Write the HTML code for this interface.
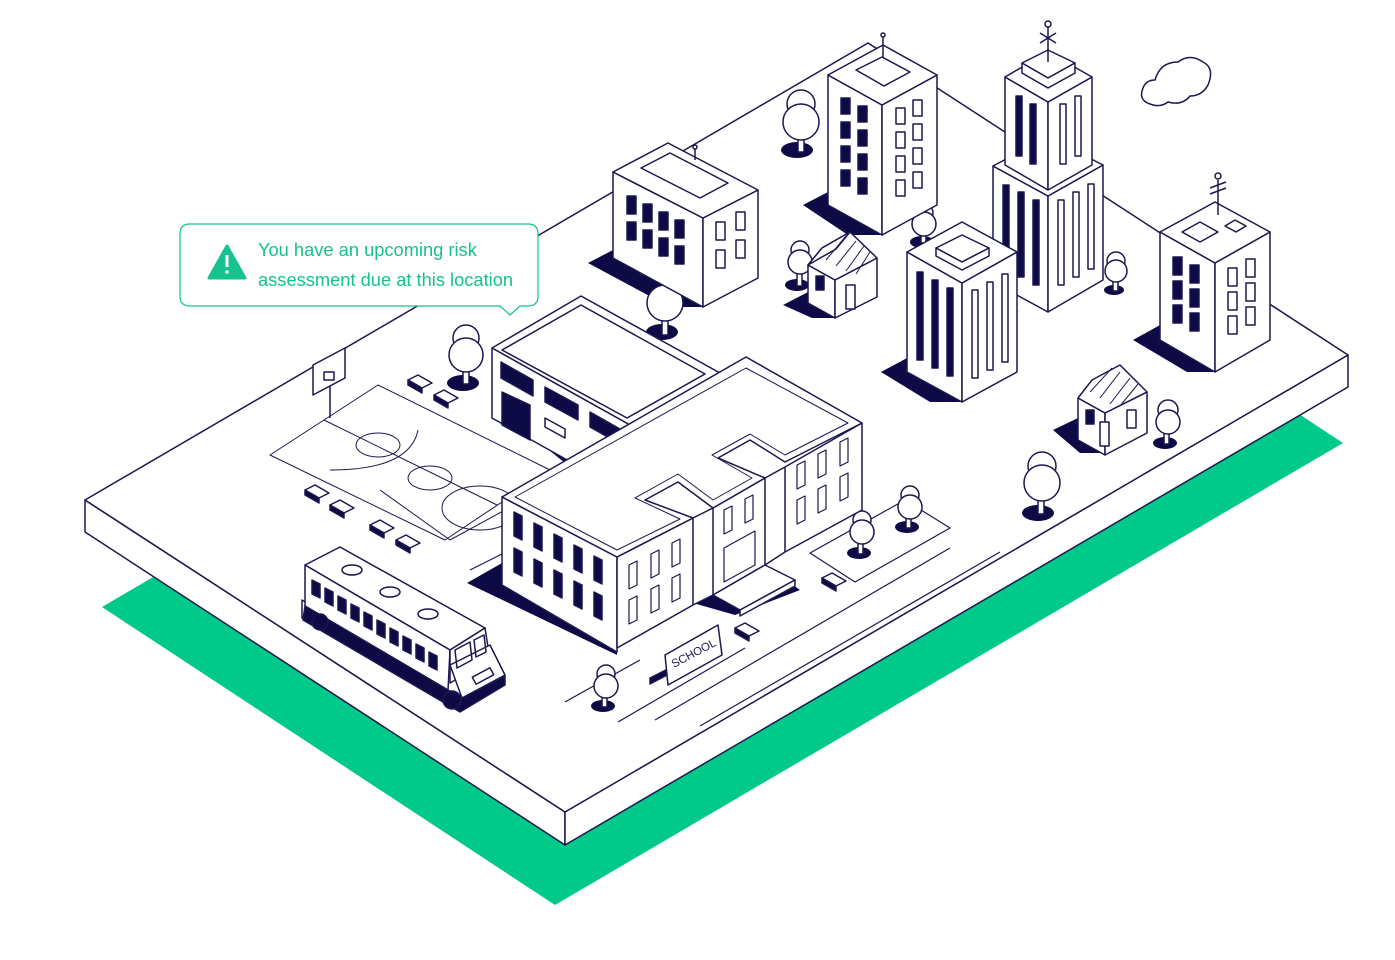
<!DOCTYPE html>
<html><head><meta charset="utf-8"><style>
html,body{margin:0;padding:0;background:#fff;}
svg{display:block;}
</style></head><body>
<svg width="1395" height="960" viewBox="0 0 1395 960" xmlns="http://www.w3.org/2000/svg">
<g stroke="#1b1850" stroke-width="1.5" stroke-linejoin="round" fill="#fff">
<!-- green ground -->
<polygon points="102,607 555,905 1343,443 890,145" fill="#00c98a" stroke="none"/>
<!-- platform -->
<polygon points="85,500 565,812 565,845 85,532" />
<polygon points="565,812 1348,355 1348,387 565,845" />
<polygon points="85,500 868,43 1348,355 565,812" />

<!-- court -->
<polygon points="270,455 378,385 550,470 445,540" fill="none" stroke-width="1"/>
<line x1="324" y1="420" x2="497" y2="505" stroke-width="1"/>
<ellipse cx="378" cy="445" rx="22" ry="12" fill="none" stroke-width="1"/>
<path d="M330,470 Q410,470 418,430" fill="none" stroke-width="1"/>
<ellipse cx="430" cy="478" rx="22" ry="12" fill="none" stroke-width="1"/>
<path d="M380,490 L450,540 L560,480" fill="none" stroke-width="1"/>
<ellipse cx="480" cy="508" rx="38" ry="22" fill="none" stroke-width="1"/>
<!-- hoop -->
<line x1="330" y1="385" x2="330" y2="418"/>
<polygon points="313,365 345,348 345,378 313,395"/>
<rect x="324" y="372" width="10" height="8"/>
<!-- lines / roads -->
<g fill="none" stroke-width="1.2">
<line x1="565" y1="702" x2="640" y2="660"/>
<line x1="618" y1="722" x2="745" y2="648"/>
<line x1="655" y1="720" x2="950" y2="548"/>
<line x1="700" y1="726" x2="1000" y2="552"/>
<polygon points="810,553 905,500 950,528 855,582"/>
<line x1="470" y1="570" x2="560" y2="525"/>
</g>

<!-- shadows -->
<g fill="#0d0a45" stroke="none">
<polygon points="588,263 613,250 613,258 703,307 670,307"/>
<polygon points="803,205 828,192 828,205 882,235 848,235"/>
<polygon points="881,372 907,358 907,372 962,402 930,402"/>
<polygon points="1133,340 1160,325 1160,340 1215,372 1187,372"/>
<polygon points="493,405 530,385 600,440 565,463"/>
<polygon points="467,583 502,563 617,630 617,655"/>
<polygon points="783,305 808,292 835,318 812,318"/>
<polygon points="1053,430 1078,418 1105,453 1080,453"/>
<polygon points="990,282 993,297 1020,312 1003,300"/>
<polygon points="693,603 765,565 800,590 735,615"/>
<ellipse cx="797" cy="150" rx="16" ry="8"/>
<ellipse cx="662" cy="332" rx="16" ry="8"/>
<ellipse cx="463" cy="383" rx="16" ry="8"/>
<ellipse cx="922" cy="242" rx="12" ry="6"/>
<ellipse cx="797" cy="285" rx="12" ry="6"/>
<ellipse cx="1114" cy="290" rx="10" ry="5"/>
<ellipse cx="1038" cy="513" rx="16" ry="8"/>
<ellipse cx="1165" cy="443" rx="12" ry="6"/>
<ellipse cx="907" cy="527" rx="12" ry="6"/>
<ellipse cx="859" cy="553" rx="12" ry="6"/>
<ellipse cx="603" cy="706" rx="12" ry="6"/>
</g>

<!-- trees -->
<g>
<g><rect x="798" y="130" width="6" height="22"/><circle cx="801" cy="104" r="14"/><circle cx="801" cy="122" r="18"/></g>
<g><rect x="662" y="315" width="6" height="20"/><circle cx="665" cy="303" r="18"/></g>
<g><rect x="463" y="360" width="6" height="24"/><circle cx="466" cy="338" r="13"/><circle cx="466" cy="355" r="17"/></g>
<g><rect x="921" y="228" width="5" height="15"/><circle cx="924" cy="213" r="9"/><circle cx="924" cy="224" r="12"/></g>
<g><rect x="797" y="270" width="5" height="16"/><circle cx="800" cy="250" r="9"/><circle cx="800" cy="262" r="12"/></g>
<g><rect x="1113" y="275" width="5" height="16"/><circle cx="1116" cy="261" r="9"/><circle cx="1116" cy="271" r="11"/></g>
<g><rect x="1038" y="490" width="6" height="24"/><circle cx="1042" cy="466" r="14"/><circle cx="1042" cy="483" r="18"/></g>
<g><rect x="1164" y="428" width="5" height="16"/><circle cx="1168" cy="410" r="10"/><circle cx="1168" cy="422" r="12"/></g>
<g><rect x="906" y="512" width="5" height="16"/><circle cx="910" cy="495" r="9"/><circle cx="910" cy="507" r="12"/></g>
<g><rect x="858" y="538" width="5" height="16"/><circle cx="862" cy="520" r="9"/><circle cx="862" cy="532" r="12"/></g>
<g><rect x="602" y="692" width="5" height="15"/><circle cx="606" cy="674" r="9"/><circle cx="606" cy="686" r="12"/></g>
</g>

<!-- benches -->
<g>
<polygon points="408,380 418,375 432,383 422,388"/><polygon points="408,380 422,388 422,393 408,385" fill="#0d0a45"/>
<polygon points="434,395 444,390 458,398 448,403"/><polygon points="434,395 448,403 448,408 434,400" fill="#0d0a45"/>
<polygon points="305,490 315,485 329,493 319,498"/><polygon points="305,490 319,498 319,503 305,495" fill="#0d0a45"/>
<polygon points="330,505 340,500 354,508 344,513"/><polygon points="330,505 344,513 344,518 330,510" fill="#0d0a45"/>
<polygon points="370,525 380,520 394,528 384,533"/><polygon points="370,525 384,533 384,538 370,530" fill="#0d0a45"/>
<polygon points="396,540 406,535 420,543 410,548"/><polygon points="396,540 410,548 410,553 396,545" fill="#0d0a45"/>
<polygon points="822,578 832,573 846,581 836,586"/><polygon points="822,578 836,586 836,591 822,583" fill="#0d0a45"/>
<polygon points="735,628 745,623 759,631 749,636"/><polygon points="735,628 749,636 749,641 735,633" fill="#0d0a45"/>
</g>

<!-- Building A -->
<polygon points="613,172 703,218 703,307 613,258"/>
<polygon points="703,218 758,190 758,278 703,307"/>
<polygon points="613,172 668,143 758,190 703,218"/>
<polygon points="641,168 670,153 728,183 700,198"/>
<line x1="695" y1="160" x2="695" y2="148"/><circle cx="695" cy="147" r="2"/>
<g fill="#0d0a45">
<rect x="627" y="196" width="9" height="18"/><rect x="643" y="204" width="9" height="18"/><rect x="659" y="212" width="9" height="18"/><rect x="675" y="220" width="9" height="18"/>
<rect x="627" y="222" width="9" height="18"/><rect x="643" y="230" width="9" height="18"/><rect x="659" y="238" width="9" height="18"/><rect x="675" y="246" width="9" height="18"/>
</g>
<g fill="none"><rect x="716" y="222" width="9" height="18"/><rect x="736" y="212" width="9" height="18"/><rect x="716" y="250" width="9" height="18"/><rect x="736" y="240" width="9" height="18"/></g>

<!-- Building B -->
<polygon points="828,75 882,105 882,235 828,205"/>
<polygon points="882,105 937,75 937,205 882,235"/>
<polygon points="828,75 883,45 937,75 882,105"/>
<polygon points="856,70 882,57 910,72 884,86"/>
<line x1="883" y1="57" x2="883" y2="37"/><circle cx="883" cy="35" r="2"/>
<g fill="#0d0a45">
<rect x="841" y="98" width="9" height="16"/><rect x="858" y="106" width="9" height="16"/>
<rect x="841" y="122" width="9" height="16"/><rect x="858" y="130" width="9" height="16"/>
<rect x="841" y="146" width="9" height="16"/><rect x="858" y="154" width="9" height="16"/>
<rect x="841" y="170" width="9" height="16"/><rect x="858" y="178" width="9" height="16"/>
</g>
<g fill="none"><rect x="896" y="108" width="9" height="16"/><rect x="913" y="100" width="9" height="16"/><rect x="896" y="132" width="9" height="16"/><rect x="913" y="124" width="9" height="16"/><rect x="896" y="156" width="9" height="16"/><rect x="913" y="148" width="9" height="16"/><rect x="896" y="180" width="9" height="16"/><rect x="913" y="172" width="9" height="16"/></g>

<!-- House 1 -->
<polygon points="808,265 835,280 835,318 808,303"/>
<polygon points="835,280 877,258 877,297 835,318"/>
<polygon points="808,265 822,248 850,232 877,258 835,280"/>
<polygon points="808,265 822,248 850,232 836,249"/>
<rect x="816" y="276" width="8" height="14" fill="#0d0a45"/>
<rect x="846" y="285" width="9" height="24"/>
<g stroke-width="1"><line x1="826" y1="260" x2="846" y2="236"/><line x1="836" y1="266" x2="856" y2="241"/><line x1="846" y1="271" x2="864" y2="246"/><line x1="856" y1="274" x2="870" y2="252"/></g>

<!-- House 2 -->
<polygon points="1078,398 1105,413 1105,455 1078,440"/>
<polygon points="1105,413 1147,392 1147,433 1105,455"/>
<polygon points="1078,398 1092,380 1120,365 1147,392 1105,413"/>
<rect x="1086" y="410" width="8" height="14" fill="#0d0a45"/>
<rect x="1100" y="422" width="9" height="24"/>
<rect x="1127" y="410" width="9" height="18"/>
<g stroke-width="1"><line x1="1090" y1="392" x2="1112" y2="368"/><line x1="1100" y1="398" x2="1120" y2="372"/><line x1="1110" y1="404" x2="1130" y2="378"/><line x1="1120" y1="406" x2="1138" y2="384"/></g>

<!-- Tower C lower -->
<polygon points="993,166 1048,196 1048,312 993,282"/>
<polygon points="1048,196 1103,165 1103,280 1048,312"/>
<polygon points="993,166 1048,137 1103,165 1048,196"/>
<g fill="#0d0a45"><rect x="1003" y="185" width="6" height="85"/><rect x="1018" y="192" width="6" height="85"/><rect x="1033" y="200" width="6" height="85"/></g>
<g fill="none"><rect x="1058" y="200" width="6" height="85"/><rect x="1073" y="192" width="6" height="85"/><rect x="1088" y="184" width="6" height="85"/></g>
<!-- Tower C upper -->
<polygon points="1005,77 1048,102 1048,190 1005,165"/>
<polygon points="1048,102 1092,77 1092,165 1048,190"/>
<polygon points="1005,77 1048,52 1092,77 1048,102"/>
<polygon points="1022,63 1048,50 1075,63 1048,78"/>
<polygon points="1022,63 1048,78 1075,63 1075,73 1048,88 1022,73"/>
<line x1="1048" y1="62" x2="1048" y2="27"/><circle cx="1048" cy="24" r="3"/>
<line x1="1040" y1="33" x2="1056" y2="43"/><line x1="1040" y1="43" x2="1056" y2="33"/>
<g fill="#0d0a45"><rect x="1016" y="96" width="6" height="60"/><rect x="1030" y="104" width="6" height="60"/></g>
<g fill="none"><rect x="1060" y="104" width="6" height="60"/><rect x="1075" y="96" width="6" height="60"/></g>

<!-- Building D -->
<polygon points="907,252 962,283 962,402 907,372"/>
<polygon points="962,283 1017,252 1017,372 962,402"/>
<polygon points="907,252 962,222 1017,252 962,283"/>
<polygon points="936,248 962,235 989,248 962,262"/>
<polygon points="936,248 962,262 989,248 989,256 962,270 936,256"/>
<g fill="#0d0a45"><rect x="917" y="272" width="6" height="88"/><rect x="932" y="280" width="6" height="88"/><rect x="947" y="288" width="6" height="88"/></g>
<g fill="none"><rect x="972" y="290" width="6" height="88"/><rect x="987" y="282" width="6" height="88"/><rect x="1002" y="274" width="6" height="88"/></g>

<!-- Building E -->
<polygon points="1160,232 1215,263 1215,372 1160,340"/>
<polygon points="1215,263 1270,232 1270,340 1215,372"/>
<polygon points="1160,232 1215,202 1270,232 1215,263"/>
<polygon points="1182,232 1200,222 1218,232 1200,242"/>
<polygon points="1225,226 1235,220 1246,226 1236,232"/>
<line x1="1218" y1="215" x2="1218" y2="180"/><circle cx="1218" cy="176" r="3"/>
<line x1="1210" y1="188" x2="1226" y2="182"/><line x1="1210" y1="194" x2="1226" y2="188"/>
<g fill="#0d0a45"><rect x="1173" y="257" width="9" height="18"/><rect x="1190" y="265" width="9" height="18"/><rect x="1173" y="281" width="9" height="18"/><rect x="1190" y="289" width="9" height="18"/><rect x="1173" y="305" width="9" height="18"/><rect x="1190" y="313" width="9" height="18"/></g>
<g fill="none"><rect x="1228" y="268" width="9" height="18"/><rect x="1246" y="259" width="9" height="18"/><rect x="1228" y="292" width="9" height="18"/><rect x="1246" y="283" width="9" height="18"/><rect x="1228" y="316" width="9" height="18"/><rect x="1246" y="307" width="9" height="18"/></g>

<!-- Cloud -->
<path d="M1150,104 Q1138,100 1143,88 Q1146,80 1155,80 Q1160,62 1178,62 Q1190,53 1203,62 Q1215,68 1208,85 Q1202,96 1190,96 Q1182,106 1168,102 Q1160,108 1150,104 Z"/>

<!-- School back building -->
<polygon points="492,348 581,296 720,373 630,425"/>
<polygon points="502,350 581,305 705,374 627,418"/>
<polygon points="492,348 630,425 630,495 492,418"/>
<g fill="#0d0a45">
<polygon points="501,362 533,380 533,396 501,378"/>
<polygon points="545,387 578,405 578,420 545,402"/>
<polygon points="590,412 620,429 620,444 590,427"/>
<polygon points="502,392 530,405 530,440 502,425"/>
</g>
<polygon points="545,418 565,429 565,438 545,427"/>

<!-- School main -->
<polygon points="502,497 617,557 617,652 502,585"/>
<polygon points="617,557 693,518 713,508 765,478 785,467 862,423 862,510 785,552 765,565 713,595 693,605 617,648"/>
<polygon points="502,497 746,357 862,423 785,462 750,440 718,458 765,478 713,508 678,482 645,500 693,518 617,557"/>
<polygon points="515,497 746,368 848,423 785,455 750,434 712,455 752,478 713,500 678,474 635,498 680,519 617,550" fill="none" stroke-width="1"/>
<line x1="765" y1="478" x2="765" y2="565"/><line x1="785" y1="467" x2="785" y2="552"/><line x1="693" y1="518" x2="693" y2="605"/><line x1="713" y1="508" x2="713" y2="595"/>
<g fill="#0d0a45">
<polygon points="514,512 522,516 522,540 514,536"/><polygon points="534,523 542,527 542,551 534,547"/><polygon points="554,534 562,538 562,562 554,558"/><polygon points="574,545 582,549 582,573 574,569"/><polygon points="594,556 602,560 602,584 594,580"/>
<polygon points="514,548 522,552 522,576 514,572"/><polygon points="534,559 542,563 542,587 534,583"/><polygon points="554,570 562,574 562,598 554,594"/><polygon points="574,581 582,585 582,609 574,605"/><polygon points="594,592 602,596 602,620 594,616"/>
</g>
<g fill="none" stroke-width="1.2">
<polygon points="629,565 637,561 637,585 629,589"/><polygon points="651,554 659,550 659,574 651,578"/><polygon points="672,543 680,539 680,563 672,567"/>
<polygon points="629,600 637,596 637,620 629,624"/><polygon points="651,589 659,585 659,609 651,613"/><polygon points="672,578 680,574 680,598 672,602"/>
<polygon points="724,510 732,506 732,530 724,534"/><polygon points="745,499 753,495 753,519 745,523"/>
<polygon points="797,465 805,461 805,485 797,489"/><polygon points="818,454 826,450 826,474 818,478"/><polygon points="840,442 848,438 848,462 840,466"/>
<polygon points="797,500 805,496 805,520 797,524"/><polygon points="818,489 826,485 826,509 818,513"/><polygon points="840,477 848,473 848,497 840,501"/>
<polygon points="724,548 755,531 755,565 724,582"/>
</g>
<polygon points="713,595 765,565 795,580 740,610"/>
<polygon points="740,610 795,580 795,586 740,616"/>

<!-- SCHOOL sign -->
<polygon points="650,678 715,645 715,650 650,684" fill="#0d0a45"/>
<polygon points="665,655 718,625 722,655 668,685"/>
<text x="0" y="0" transform="translate(674,668) rotate(-28)" font-family="Liberation Sans, sans-serif" font-size="11.5" fill="#1b1850" stroke="none">SCHOOL</text>

<!-- Bus -->
<polygon points="302,600 440,683 440,700 302,618"/>
<polygon points="305,565 340,547 485,628 450,650"/>
<polygon points="305,565 450,650 448,690 305,606"/>
<polygon points="450,650 485,628 490,660 450,683"/>
<polygon points="450,665 490,645 505,675 462,698"/>
<polygon points="305,606 448,690 462,698 505,676 505,685 460,712 303,620" fill="#0d0a45"/>
<g fill="#0d0a45">
<polygon points="312,580 320,584 320,598 312,594"/><polygon points="325,588 333,592 333,606 325,602"/><polygon points="338,596 346,600 346,614 338,610"/><polygon points="351,604 359,608 359,622 351,618"/><polygon points="364,612 372,616 372,630 364,626"/><polygon points="377,620 385,624 385,638 377,634"/><polygon points="390,628 398,632 398,646 390,642"/><polygon points="403,636 411,640 411,654 403,650"/><polygon points="416,644 424,648 424,662 416,658"/><polygon points="429,652 437,656 437,670 429,666"/>
</g>
<ellipse cx="352" cy="570" rx="10" ry="5"/><ellipse cx="390" cy="592" rx="10" ry="5"/><ellipse cx="428" cy="614" rx="10" ry="5"/>
<polygon points="455,650 470,642 472,660 457,668" fill="none"/><polygon points="474,640 484,635 486,652 476,657" fill="none"/>
<circle cx="320" cy="622" r="8" fill="#0d0a45"/><circle cx="452" cy="700" r="9" fill="#0d0a45"/>
<rect x="473" y="672" width="20" height="8" transform="rotate(-28 483 676)"/>

<!-- tooltip -->
<path d="M190,224 H528 Q538,224 538,234 V296 Q538,306 528,306 H520 L510,315 L500,306 H190 Q180,306 180,296 V234 Q180,224 190,224 Z" stroke="#14c38e" stroke-width="1.2"/>
<polygon points="227,246 245,278 209,278" fill="#14c38e" stroke="#14c38e" stroke-width="3"/>
<rect x="225.5" y="255" width="3" height="12" fill="#fff" stroke="none"/>
<circle cx="227" cy="272" r="1.8" fill="#fff" stroke="none"/>
<text x="258" y="256" font-family="Liberation Sans, sans-serif" font-size="18.3" fill="#14c38e" stroke="none">You have an upcoming risk</text>
<text x="258" y="286" font-family="Liberation Sans, sans-serif" font-size="18.3" fill="#14c38e" stroke="none">assessment due at this location</text>
</g>
</svg>
</body></html>
